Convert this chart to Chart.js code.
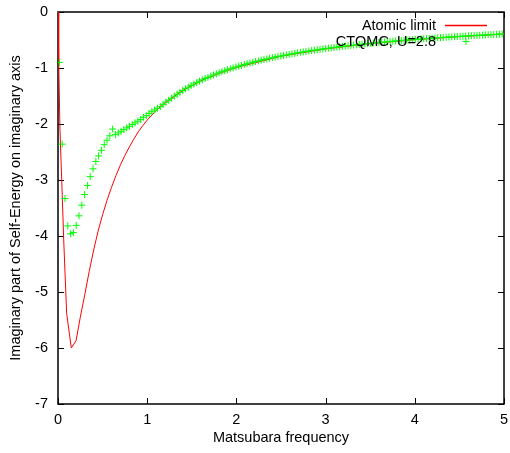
<!DOCTYPE html>
<html>
<head>
<meta charset="utf-8">
<script src="https://cdn.jsdelivr.net/npm/chart.js@4/dist/chart.umd.min.js"></script>
<style>
  html, body { margin: 0; padding: 0; background: #fff; }
  #wrap { width: 510px; height: 453px; position: relative; }
</style>
</head>
<body>
<div id="wrap"><canvas id="c" width="510" height="453"></canvas></div>
<script>
// ---- data ----
const xTickValues = [0, 1, 2, 3, 4, 5];
const yTickValues = [0, -1, -2, -3, -4, -5, -6, -7];

const atomicLabel = "Atomic limit";
const ctqmcLabel = "CTQMC, U=2.8";

const atomicFreqs = [0, 0.008, 0.022, 0.045, 0.064, 0.097, 0.149, 0.202, 0.25, 0.30, 0.35, 0.40, 0.45, 0.50, 0.55, 0.60, 0.65, 0.70, 0.75, 0.80, 0.85, 0.90, 0.95, 1.00, 1.10, 1.20, 1.40, 1.60, 1.80, 2.00, 2.50, 3.00, 3.50, 4.00, 4.50, 5.00];
const atomicSigma = [0, -0.90, -2.10, -3.15, -4.07, -5.38, -6.00, -5.87, -5.45, -5.05, -4.63, -4.25, -3.91, -3.62, -3.36, -3.13, -2.92, -2.73, -2.56, -2.41, -2.27, -2.14, -2.03, -1.93, -1.76, -1.62, -1.40, -1.23, -1.10, -0.99, -0.79, -0.66, -0.565, -0.495, -0.44, -0.395];

const ctqmcFreqs = [0.0157, 0.0471, 0.0785, 0.1100, 0.1414, 0.1728, 0.2042, 0.2356, 0.2670, 0.2985,
  0.3299, 0.3613, 0.3927, 0.4241, 0.4555, 0.4869, 0.5184, 0.5498, 0.5812, 0.6126,
  0.6440, 0.6754, 0.7069, 0.7383, 0.7697, 0.8011, 0.8325, 0.8639, 0.8954, 0.9268,
  0.9582, 0.9896, 1.0210, 1.0524, 1.0838, 1.1153, 1.1467, 1.1781, 1.2095, 1.2409,
  1.2723, 1.3038, 1.3352, 1.3666, 1.3980, 1.4294, 1.4608, 1.4923, 1.5237, 1.5551,
  1.5865, 1.6179, 1.6493, 1.6808, 1.7122, 1.7436, 1.7750, 1.8064, 1.8378, 1.8692,
  1.9007, 1.9321, 1.9635, 1.9949, 2.0263, 2.0577, 2.0892, 2.1206, 2.1520, 2.1834,
  2.2148, 2.2462, 2.2777, 2.3091, 2.3405, 2.3719, 2.4033, 2.4347, 2.4662, 2.4976,
  2.5290, 2.5604, 2.5918, 2.6232, 2.6546, 2.6861, 2.7175, 2.7489, 2.7803, 2.8117,
  2.8431, 2.8746, 2.9060, 2.9374, 2.9688, 3.0002, 3.0316, 3.0631, 3.0945, 3.1259,
  3.1573, 3.1887, 3.2201, 3.2515, 3.2830, 3.3144, 3.3458, 3.3772, 3.4086, 3.4400,
  3.4715, 3.5029, 3.5343, 3.5657, 3.5971, 3.6285, 3.6600, 3.6914, 3.7228, 3.7542,
  3.7856, 3.8170, 3.8485, 3.8799, 3.9113, 3.9427, 3.9741, 4.0055, 4.0369, 4.0684,
  4.0998, 4.1312, 4.1626, 4.1940, 4.2254, 4.2569, 4.2883, 4.3197, 4.3511, 4.3825,
  4.4139, 4.4454, 4.4768, 4.5082, 4.5396, 4.5710, 4.6024, 4.6338, 4.6653, 4.6967,
  4.7281, 4.7595, 4.7909, 4.8223, 4.8538, 4.8852, 4.9166, 4.9480, 4.9794];
const ctqmcSigma = [-0.90, -2.36, -3.33, -3.82, -3.96, -3.94, -3.81, -3.64, -3.45, -3.26,
  -3.10, -2.94, -2.80, -2.67, -2.57, -2.47, -2.37, -2.29, -2.21, -2.09,
  -2.19, -2.16, -2.13, -2.10, -2.07, -2.04, -2.01, -1.98, -1.95, -1.92,
  -1.88, -1.85, -1.81, -1.78, -1.75, -1.72, -1.69, -1.65, -1.61, -1.575,
  -1.54, -1.503, -1.468, -1.434, -1.402, -1.371, -1.342, -1.313, -1.286, -1.260,
  -1.235, -1.211, -1.188, -1.166, -1.145, -1.124, -1.104, -1.085, -1.066, -1.049,
  -1.031, -1.014, -0.998, -0.983, -0.967, -0.953, -0.938, -0.924, -0.911, -0.898,
  -0.885, -0.873, -0.861, -0.849, -0.837, -0.826, -0.816, -0.805, -0.795, -0.785,
  -0.775, -0.766, -0.756, -0.747, -0.738, -0.730, -0.721, -0.713, -0.705, -0.697,
  -0.689, -0.682, -0.674, -0.667, -0.660, -0.653, -0.647, -0.640, -0.633, -0.627,
  -0.621, -0.615, -0.609, -0.603, -0.597, -0.591, -0.586, -0.580, -0.575, -0.570,
  -0.565, -0.560, -0.555, -0.550, -0.545, -0.540, -0.536, -0.531, -0.526, -0.522,
  -0.518, -0.513, -0.509, -0.505, -0.501, -0.497, -0.493, -0.489, -0.486, -0.482,
  -0.478, -0.474, -0.471, -0.467, -0.464, -0.460, -0.457, -0.454, -0.450, -0.447,
  -0.444, -0.441, -0.438, -0.435, -0.432, -0.429, -0.426, -0.423, -0.420, -0.417,
  -0.415, -0.412, -0.409, -0.407, -0.404, -0.401, -0.399, -0.396, -0.394];

// ---- chart ----
const FONT = '"Liberation Sans", Arial, Helvetica, sans-serif';
const FS = 14.5;
Chart.defaults.font.family = FONT;
Chart.defaults.font.size = FS;
Chart.defaults.color = '#000';

const RED = 'rgb(255,0,0)';
const GREEN = 'rgb(0,255,0)';

const framePlugin = {
  id: 'frame',
  beforeDatasetsDraw(chart) {
    const { ctx, chartArea: { left, right, top, bottom }, scales: { x, y } } = chart;
    const tl = 6;
    ctx.save();
    ctx.strokeStyle = '#000';
    ctx.lineWidth = 1;
    ctx.beginPath();
    xTickValues.forEach(v => {
      const px = Math.round(x.getPixelForValue(v)) + 0.5;
      ctx.moveTo(px, bottom); ctx.lineTo(px, bottom - tl);
      ctx.moveTo(px, top); ctx.lineTo(px, top + tl);
    });
    yTickValues.forEach(v => {
      const py = Math.round(y.getPixelForValue(v)) + 0.5;
      ctx.moveTo(left, py); ctx.lineTo(left + tl, py);
      ctx.moveTo(right, py); ctx.lineTo(right - tl, py);
    });
    ctx.stroke();
    ctx.lineWidth = 1.5;
    ctx.strokeRect(left, top, right - left, bottom - top);
    ctx.restore();
  },
  afterDatasetsDraw(chart) {
    const { ctx } = chart;
    ctx.save();
    ctx.font = FS + 'px ' + FONT;
    ctx.fillStyle = '#000';
    ctx.textAlign = 'right';
    ctx.textBaseline = 'middle';
    ctx.fillText(chart.data.datasets[0].label, 436, 26);
    ctx.fillText(chart.data.datasets[1].label, 436, 42);
    ctx.lineWidth = 1.3;
    ctx.strokeStyle = chart.data.datasets[0].borderColor;
    ctx.beginPath();
    ctx.moveTo(445, 25.5); ctx.lineTo(487, 25.5);
    ctx.stroke();
    ctx.lineWidth = 1;
    ctx.strokeStyle = chart.data.datasets[1].borderColor;
    ctx.beginPath();
    ctx.moveTo(462.5, 41.5); ctx.lineTo(469.5, 41.5);
    ctx.moveTo(466, 38); ctx.lineTo(466, 45);
    ctx.stroke();
    ctx.restore();
  }
};

new Chart(document.getElementById('c'), {
  type: 'scatter',
  data: {
    datasets: [
      {
        label: atomicLabel,
        data: atomicFreqs.map((f, i) => ({ x: f, y: atomicSigma[i] })),
        showLine: true,
        borderColor: RED,
        backgroundColor: RED,
        borderWidth: 1,
        pointRadius: 0,
        tension: 0,
        order: 2
      },
      {
        label: ctqmcLabel,
        data: ctqmcFreqs.map((f, i) => ({ x: f, y: ctqmcSigma[i] })),
        showLine: false,
        pointStyle: 'cross',
        pointRadius: 3.5,
        pointBorderWidth: 1,
        borderColor: GREEN,
        backgroundColor: GREEN,
        order: 1
      }
    ]
  },
  options: {
    responsive: false,
    animation: false,
    devicePixelRatio: 1,
    layout: { padding: { top: 12, right: 6, left: 0, bottom: 0 } },
    plugins: { legend: { display: false }, tooltip: { enabled: false } },
    scales: {
      x: {
        type: 'linear', min: 0, max: 5,
        afterFit(s) { s.height = 49; s.paddingLeft = 0; s.paddingRight = 0; },
        afterBuildTicks(s) { s.ticks = xTickValues.map(v => ({ value: v })); },
        grid: { display: false, drawTicks: false },
        border: { display: false },
        ticks: { padding: 7, maxRotation: 0, color: '#000', font: { size: FS } },
        title: { display: true, text: 'Matsubara frequency', color: '#000', font: { size: FS }, padding: { top: 0, bottom: 6 } }
      },
      y: {
        type: 'linear', min: -7, max: 0,
        afterFit(s) { s.width = 58; s.paddingTop = 0; s.paddingBottom = 0; },
        afterBuildTicks(s) { s.ticks = yTickValues.map(v => ({ value: v })); },
        grid: { display: false, drawTicks: false },
        border: { display: false },
        ticks: { padding: 10, color: '#000', font: { size: FS } },
        title: { display: true, text: 'Imaginary part of Self-Energy on imaginary axis', color: '#000', font: { size: FS }, padding: { top: 7, bottom: 0 } }
      }
    }
  },
  plugins: [framePlugin]
});
</script>
</body>
</html>
